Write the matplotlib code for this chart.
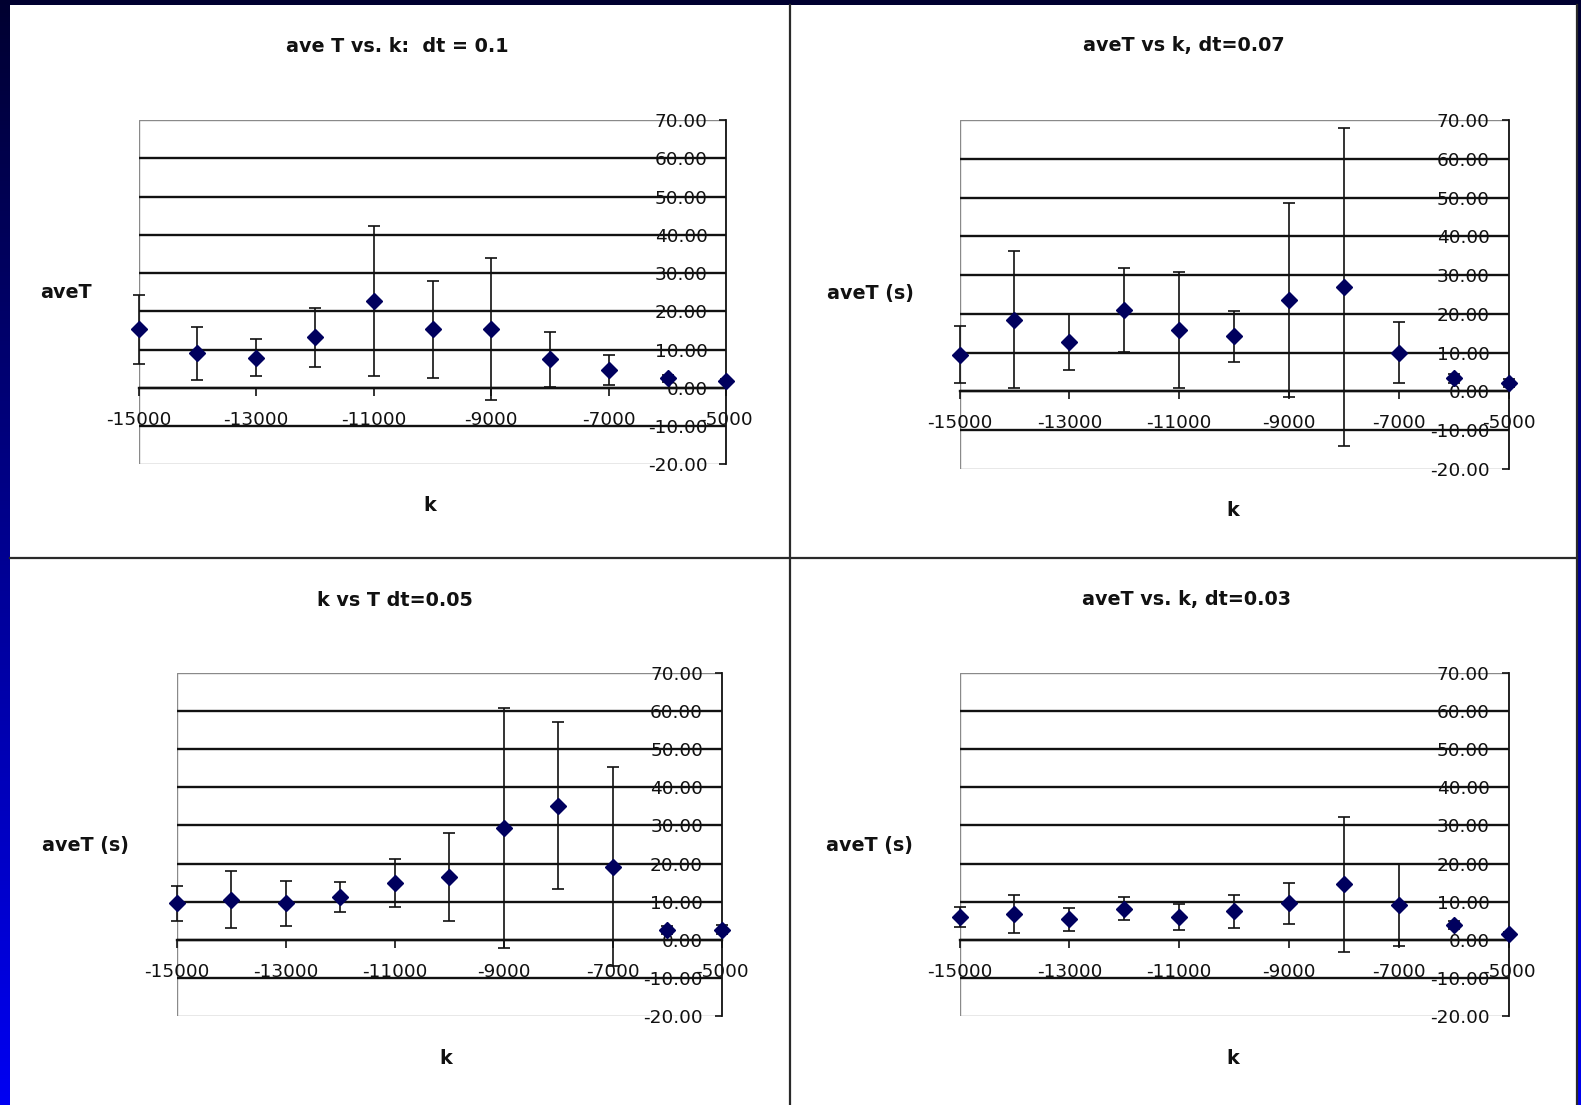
import numpy as np
import matplotlib
matplotlib.use("Agg")
import matplotlib.pyplot as plt
from matplotlib.patches import Rectangle
from matplotlib.lines import Line2D
from matplotlib.ticker import FixedLocator, FuncFormatter

plt.rcParams['axes.unicode_minus'] = False
plt.rcParams['font.family'] = ['DejaVu Sans']

# spring constant values (same for every run)
k_values = [-15000, -14000, -13000, -12000, -11000, -10000,
            -9000, -8000, -7000, -6000, -5000]

# average period and its spread, time step 0.1
aveT_dt010 = [15.3, 9.0, 7.9, 13.2, 22.6, 15.3, 15.3, 7.4, 4.7, 2.5, 1.7]
err_dt010 = [9.0, 7.0, 4.8, 7.7, 19.6, 12.7, 18.5, 7.3, 4.0, 0.9, 0.5]

# time step 0.07
aveT_dt007 = [9.5, 18.5, 12.7, 21.0, 15.9, 14.2, 23.6, 26.9, 10.0, 3.4, 2.1]
err_dt007 = [7.3, 17.7, 7.2, 10.8, 15.0, 6.5, 25.0, 41.0, 7.9, 1.2, 1.0]

# time step 0.05
aveT_dt005 = [9.5, 10.5, 9.5, 11.2, 14.9, 16.5, 29.4, 35.2, 19.2, 2.6, 2.6]
err_dt005 = [4.7, 7.5, 5.9, 4.0, 6.4, 11.5, 31.6, 22.0, 26.2, 1.0, 1.2]

# time step 0.03
aveT_dt003 = [5.9, 6.8, 5.3, 8.1, 5.9, 7.4, 9.6, 14.5, 9.0, 3.9, 1.5]
err_dt003 = [2.7, 5.0, 3.0, 3.0, 3.5, 4.3, 5.4, 17.8, 10.8, 1.0, 0.5]

titles = ["ave T vs. k:  dt = 0.1", "aveT vs k, dt=0.07",
          "k vs T dt=0.05", "aveT vs. k, dt=0.03"]
ylabels = ["aveT", "aveT (s)", "aveT (s)", "aveT (s)"]
xlabel = "k"

x_ticks = [-15000, -13000, -11000, -9000, -7000, -5000]
y_ticks = [-20, -10, 0, 10, 20, 30, 40, 50, 60, 70]
grid_values = [-10, 0, 10, 20, 30, 40, 50, 60]

W, H = 1581, 1105
DPI = 100
fig = plt.figure(figsize=(W / DPI, H / DPI), dpi=DPI)


def fx(px):
    return px / W


def fy(py):
    return 1 - py / H


# slide background: vertical blue gradient
bg = fig.add_axes([0, 0, 1, 1], zorder=-10)
grad = np.linspace(0, 1, 256)[:, None]
top_c = np.array([0.0, 0.0, 0.19])
bot_c = np.array([0.0, 0.0, 0.95])
img = top_c[None, None, :] * (1 - grad[:, :, None]) + bot_c[None, None, :] * grad[:, :, None]
bg.imshow(img, aspect='auto', extent=[0, 1, 0, 1], origin='upper')
bg.set_xlim(0, 1)
bg.set_ylim(0, 1)
bg.axis('off')

# white sheet holding the four charts
bg.add_patch(Rectangle((fx(10), 0), fx(1577) - fx(10), fy(5), facecolor='white',
                       edgecolor='none', transform=bg.transAxes, zorder=2))
line_kw = dict(color='#2a2a2a', lw=1.6, transform=bg.transAxes, zorder=3)
bg.add_line(Line2D([fx(790), fx(790)], [fy(5), 0], **line_kw))
bg.add_line(Line2D([fx(10), fx(1577)], [fy(558), fy(558)], **line_kw))
bg.add_line(Line2D([fx(1576.5), fx(1576.5)], [fy(5), 0], **line_kw))

# plot-area boxes in pixels: left, right, top, bottom
boxes = [(138.7, 726.3, 120, 464.3),
         (959.6, 1508.5, 120, 469),
         (176.5, 721.8, 673.3, 1015.7),
         (959.6, 1508.5, 673.3, 1015.7)]
title_pos = [(397, 46), (1184, 46), (395, 600), (1186, 600)]
ylabel_pos = [(66, 293), (870, 294), (85, 845), (869, 845)]
xlabel_pos = [(430, 506), (1233, 510), (446, 1059), (1233, 1059)]

series = [(aveT_dt010, err_dt010), (aveT_dt007, err_dt007),
          (aveT_dt005, err_dt005), (aveT_dt003, err_dt003)]

label_font = dict(fontsize=13.8, fontweight='bold', color='#111111')
tick_font_size = 13.3

for i in range(4):
    l, r, t, b = boxes[i]
    ax = fig.add_axes([fx(l), fy(b), fx(r) - fx(l), fy(t) - fy(b)])
    ax.set_facecolor('none')
    ax.set_xlim(-15000, -5000)
    ax.set_ylim(-20, 70)

    # gray frame round the plot area
    ax.add_patch(Rectangle((0, 0), 1, 1, transform=ax.transAxes, fill=False,
                           edgecolor='#8a8a8a', lw=1.0, zorder=1))
    for yv in grid_values:
        ax.axhline(yv, color='#111111', lw=1.7, zorder=1)

    ax.spines['top'].set_visible(False)
    ax.spines['left'].set_visible(False)
    ax.spines['right'].set_color('#111111')
    ax.spines['right'].set_linewidth(1.3)
    ax.spines['bottom'].set_position(('data', 0))
    ax.spines['bottom'].set_color('#111111')
    ax.spines['bottom'].set_linewidth(1.7)

    # horizontal axis crossing at zero
    ax.xaxis.set_major_locator(FixedLocator(x_ticks))
    ax.xaxis.set_major_formatter(FuncFormatter(lambda v, p: f"{int(v)}"))
    ax.tick_params(axis='x', direction='out', length=6, width=1.2,
                   colors='#111111', labelsize=tick_font_size, pad=10.5)

    # value axis drawn at the right edge, labels on its inner side
    ax.yaxis.set_major_locator(FixedLocator(y_ticks))
    ax.yaxis.set_major_formatter(FuncFormatter(lambda v, p: f"{v:.2f}"))
    ax.tick_params(axis='y', left=False, labelleft=False, right=True,
                   labelright=True, direction='in', length=5, width=1.2,
                   colors='#111111', labelsize=tick_font_size, pad=-13.5)
    for lbl in ax.get_yticklabels():
        lbl.set_horizontalalignment('right')

    vals, errs = series[i]
    ax.errorbar(k_values, vals, yerr=errs, fmt='none', ecolor='#111111',
                elinewidth=1.2, capsize=4.3, capthick=1.2, zorder=3,
                clip_on=False)
    ax.plot(k_values, vals, linestyle='none', marker='D', markersize=8,
            color='#00005e', markeredgecolor='#00005e', zorder=4,
            clip_on=False)

    tx, ty = title_pos[i]
    fig.text(fx(tx), fy(ty), titles[i], ha='center', va='center', **label_font)
    lx, ly = ylabel_pos[i]
    fig.text(fx(lx), fy(ly), ylabels[i], ha='center', va='center', **label_font)
    kx, ky = xlabel_pos[i]
    fig.text(fx(kx), fy(ky), xlabel, ha='center', va='center', **label_font)

fig.savefig('out.png', dpi=DPI)
